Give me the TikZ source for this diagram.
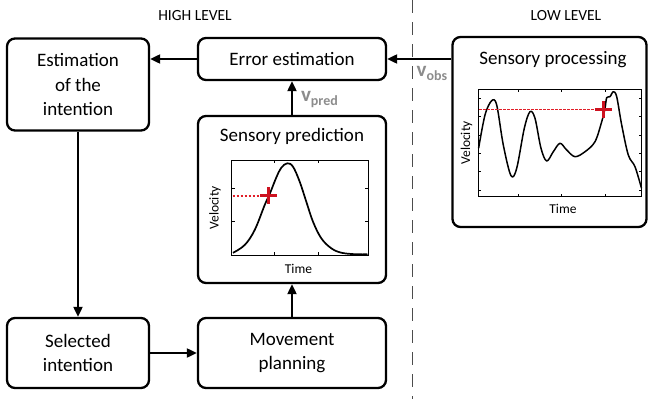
\documentclass[tikz,border=0pt]{standalone}
\usepackage{fontspec}
\setmainfont{Carlito}
\usetikzlibrary{arrows.meta,calc}
\definecolor{lblgray}{RGB}{140,140,140}
\definecolor{crossred}{RGB}{205,18,32}
\definecolor{dotred}{RGB}{225,30,40}
\tikzset{
  box/.style={draw=black, line width=2.3pt, rounded corners=8pt, fill=white, align=center, inner sep=0pt,
    font=\fontsize{19}{24.5}\selectfont},
  conn/.style={line width=2pt, -{Triangle[length=10pt,width=9pt]}},
  axisbox/.style={draw=black, line width=1pt},
  tickmark/.style={line width=0.6pt},
  curve/.style={line width=1.7pt, line join=round},
  reddot/.style={draw=dotred, line width=1.8pt},
  redcross/.style={draw=crossred, line width=2.6pt},
  plotlbl/.style={font=\fontsize{13.5}{14}\selectfont, inner sep=0pt},
  title/.style={font=\fontsize{19}{22}\selectfont, inner sep=0pt},
  level/.style={font=\fontsize{15.5}{17}\selectfont, inner sep=0pt},
  vlbl/.style={text=lblgray, inner sep=0pt, font=\bfseries},
}
\newcommand{\vsub}[1]{{\fontsize{21}{21}\selectfont v}\raisebox{-4.5pt}{\fontsize{14}{14}\selectfont #1}}
\begin{document}
\begin{tikzpicture}[x=1pt,y=-1pt]
\useasboundingbox (0,0) rectangle (649,399);

% level titles and divider
\node[level] (hl) at (195,16) {HIGH LEVEL};
\node[level] (ll) at (566,16) {LOW LEVEL};
\coordinate (dtop) at (412,0);
\coordinate (dbot) at (412,399);
\draw[line width=0.9pt, dash pattern=on 13pt off 9pt, black!70] (dtop) -- (dbot);

% boxes
\node[box, minimum width=142pt, minimum height=92pt] (est) at (78,84.5) {Estimation\\of the\\intention};
\node[box, minimum width=188pt, minimum height=42pt] (err) at (292,59) {Error estimation};
\node[box, minimum width=188pt, minimum height=167pt] (pred) at (292,199.5) {};
\node[box, minimum width=142pt, minimum height=70pt] (sel) at (78,353) {Selected\\intention};
\node[box, minimum width=188pt, minimum height=70pt] (mov) at (292,353) {Movement\\planning};
\node[box, minimum width=194pt, minimum height=190pt] (proc) at (549.5,132) {};

% connectors
\draw[conn] (err.west) -- (est.east |- err.west);
\draw[conn] (est.south) -- (sel.north);
\draw[conn] (sel.east) -- (mov.west);
\draw[conn] (mov.north) -- (pred.south);
\draw[conn] (pred.north) -- (err.south) node[vlbl, pos=0.45, right=8pt] (vp) {\vsub{pred}};
\draw[conn] (proc.west |- err.east) -- (err.east);
\node[vlbl, anchor=north west] (vo) at (416.5,66) {\vsub{obs}};

% ---------- Sensory prediction plot ----------
\node[title] (ptitle) at (292,136) {Sensory prediction};
\draw[axisbox] (231.5,160) rectangle (368,255);
\foreach \x in {274.7,318} {
  \draw[tickmark] (\x,255) -- (\x,252);
  \draw[tickmark] (\x,160) -- (\x,163);
}
\foreach \y in {188.3,221.7} {
  \draw[tickmark] (231.5,\y) -- (234.5,\y);
  \draw[tickmark] (368,\y) -- (365,\y);
}
\draw[curve] plot[smooth, tension=0.6] coordinates {
 (233,252.8) (244.7,245) (254.7,230) (264.7,205) (269.7,194) (276.3,177.5)
 (281.3,167.7) (287.3,163.3) (293,166.7) (299.7,181.7) (306.3,201.7) (313,221.7)
 (321.3,238.3) (331.3,248.3) (341.3,252.7) (354.7,254.2) (367.5,254.3)};
\coordinate (pc) at (268.5,195.7);
\foreach \x in {232.5,236.5,...,262} {
  \draw[reddot] (\x,195.7) -- ++(2.6,0);
}
\draw[redcross] ($(pc)+(-8.5,0)$) -- ($(pc)+(8.5,0)$);
\draw[redcross] ($(pc)+(0,-8.5)$) -- ($(pc)+(0,8.5)$);
\node[plotlbl, rotate=90] (pv) at (215,208) {Velocity};
\node[plotlbl] (pt) at (298.5,268.5) {Time};

% ---------- Sensory processing plot ----------
\node[title] (stitle) at (553,60) {Sensory processing};
\draw[axisbox] (478.3,89) rectangle (641.7,196.7);
\foreach \x in {518.3,561.7,605} {
  \draw[tickmark] (\x,196.7) -- (\x,193.7);
  \draw[tickmark] (\x,89) -- (\x,92);
}
\foreach \y in {98.3,116.7,135,153.3,171.7,190} {
  \draw[tickmark] (478.3,\y) -- (481.3,\y);
  \draw[tickmark] (641.7,\y) -- (638.7,\y);
}
\draw[curve, line width=1.5pt] plot[smooth, tension=0.55] coordinates {
 (478.6,148.3) (485,115) (491.7,100.7) (496.7,105) (503.3,145) (511,175.7)
 (516.7,168.3) (524.3,128.3) (530,111.7) (535,118.3) (541,148.3) (546.7,161)
 (553.3,151.7) (560,143.3) (566.7,150) (575,156.7) (585,151.7) (595,141.7)
 (601.7,121.7) (605,108.3) (606.7,97.7) (610,96.7) (613.3,91.7) (616.7,96.7)
 (621.7,125) (628.3,155) (635,166.7) (641.5,188.3)};
\coordinate (sc) at (603.3,109.5);
\foreach \x in {479,483,...,597} {
  \draw[reddot] (\x,109.5) -- ++(2.6,0);
}
\draw[redcross] ($(sc)+(-8.5,0)$) -- ($(sc)+(8.5,0)$);
\draw[redcross] ($(sc)+(0,-8.5)$) -- ($(sc)+(0,8.5)$);
\node[plotlbl, rotate=90] (sv) at (466.5,143) {Velocity};
\node[plotlbl] (st) at (563,208.5) {Time};
\end{tikzpicture}
\end{document}
